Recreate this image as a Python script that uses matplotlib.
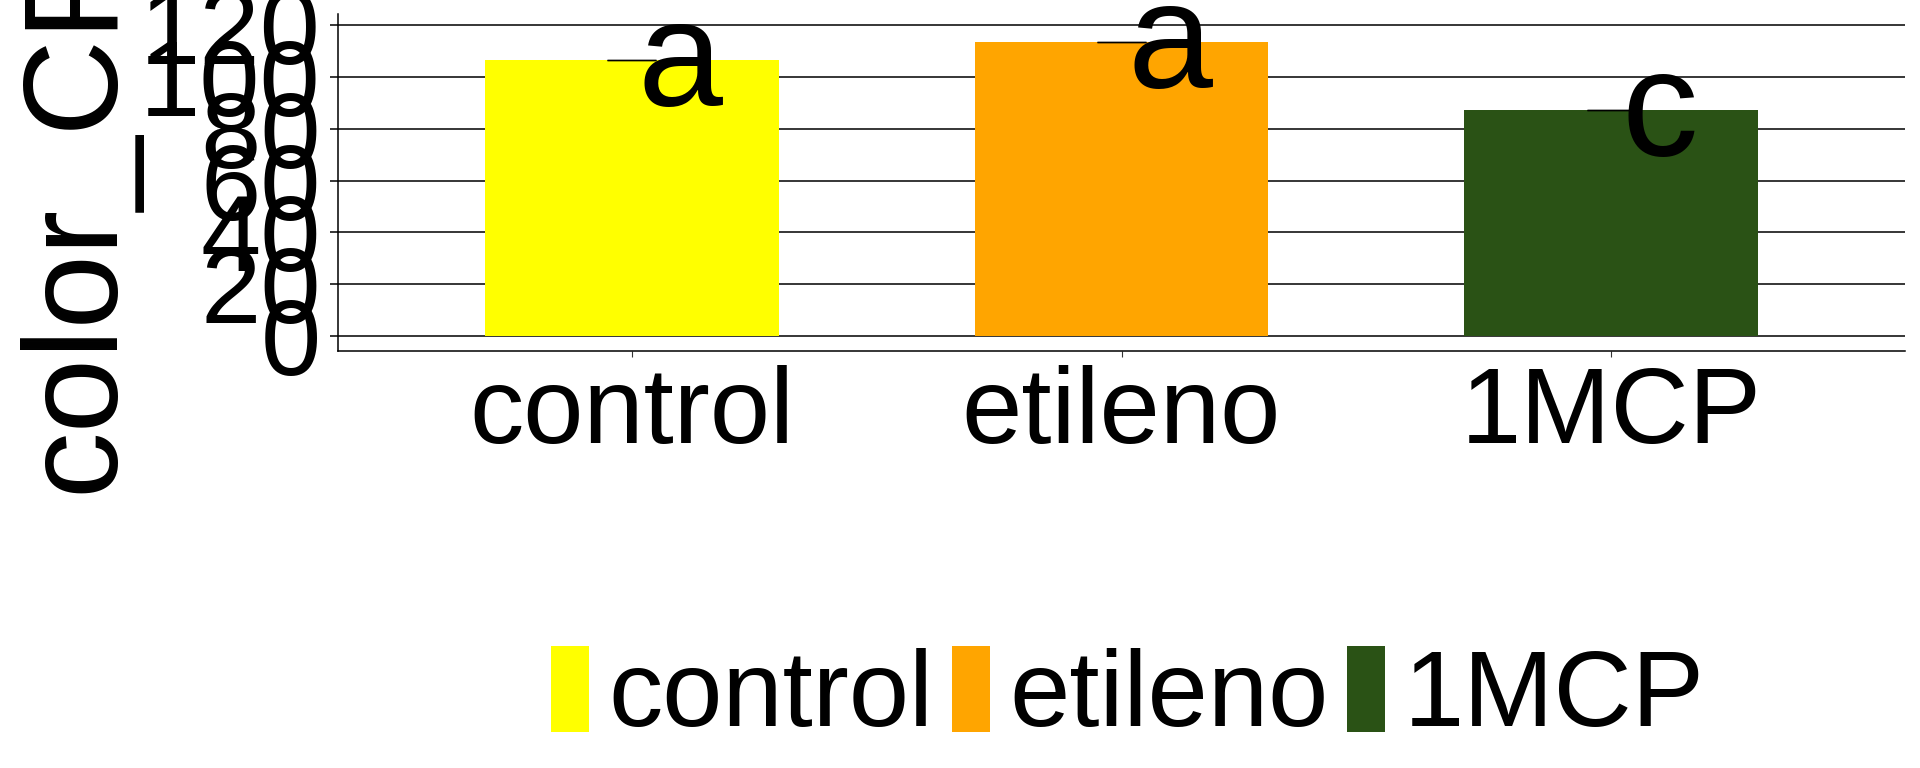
import numpy as np
import matplotlib
matplotlib.use("Agg")
import matplotlib.pyplot as plt

# data
tratamientos = ["control", "etileno", "1MCP"]
medias = [106.7, 113.7, 87.4]
desvios = [0.0, 0.0, 0.0]
letras = ["a", "a", "c"]
colores = ["#FFFF00", "#FFA500", "#2A5215"]
y_ticks = [0, 20, 40, 60, 80, 100, 120]

plt.rcParams["font.family"] = ["Liberation Sans", "DejaVu Sans"]

fig = plt.figure(figsize=(19.2, 7.68), dpi=100)
ax = fig.add_axes([338 / 1920, 1 - 351 / 768, (1905 - 338) / 1920, (351 - 14) / 768])

x = np.arange(1, len(tratamientos) + 1)
barras = ax.bar(x, medias, width=0.6, color=colores, zorder=2)

# error bars (sd ~ 0, only the caps show)
medias_arr = np.array(medias)
sd = np.array(desvios)
ax.vlines(x, medias_arr - sd, medias_arr + sd, color="black", linewidth=1, zorder=3)
ax.hlines(medias_arr + sd, x - 0.05, x + 0.05, color="black", linewidth=1, zorder=3)
ax.hlines(medias_arr - sd, x - 0.05, x + 0.05, color="black", linewidth=1, zorder=3)

# letras de significancia
for xi, m, s, l in zip(x, medias, desvios, letras):
    ax.annotate(l, (xi, m + s), xytext=(35, -33), textcoords="offset points",
                ha="center", va="baseline", fontsize=110, zorder=4)

ax.set_xlim(0.4, 3.6)
ax.set_ylim(-5.81, 124.41)
ax.set_xticks(x)
ax.set_xticklabels(tratamientos)
ax.set_yticks(y_ticks)

ax.yaxis.grid(True, color="black", linewidth=1.1)
ax.set_axisbelow(True)
for side in ["top", "right"]:
    ax.spines[side].set_visible(False)
for side in ["left", "bottom"]:
    ax.spines[side].set_linewidth(1.1)

ax.tick_params(axis="y", labelsize=78, length=6, width=1.1, pad=6.5, colors="black")
ax.tick_params(axis="x", labelsize=78, length=4.3, width=0.8, pad=5.8, color="#333333")

ax.set_ylabel("color_CF", fontsize=96)
ax.yaxis.set_label_coords(112 / 1920, 1 - 493 / 768, transform=fig.transFigure)
ax.yaxis.label.set(ha="left", va="baseline", rotation_mode="anchor")

ax.legend(barras, tratamientos, loc="center", ncol=3, frameon=False, fontsize=78,
          handlelength=0.35, handleheight=0.84, handletextpad=0.18,
          columnspacing=0.17, borderpad=0, borderaxespad=0,
          bbox_to_anchor=(1128 / 1920, 1 - 697 / 768), bbox_transform=fig.transFigure)

fig.savefig("out.png", dpi=100)
